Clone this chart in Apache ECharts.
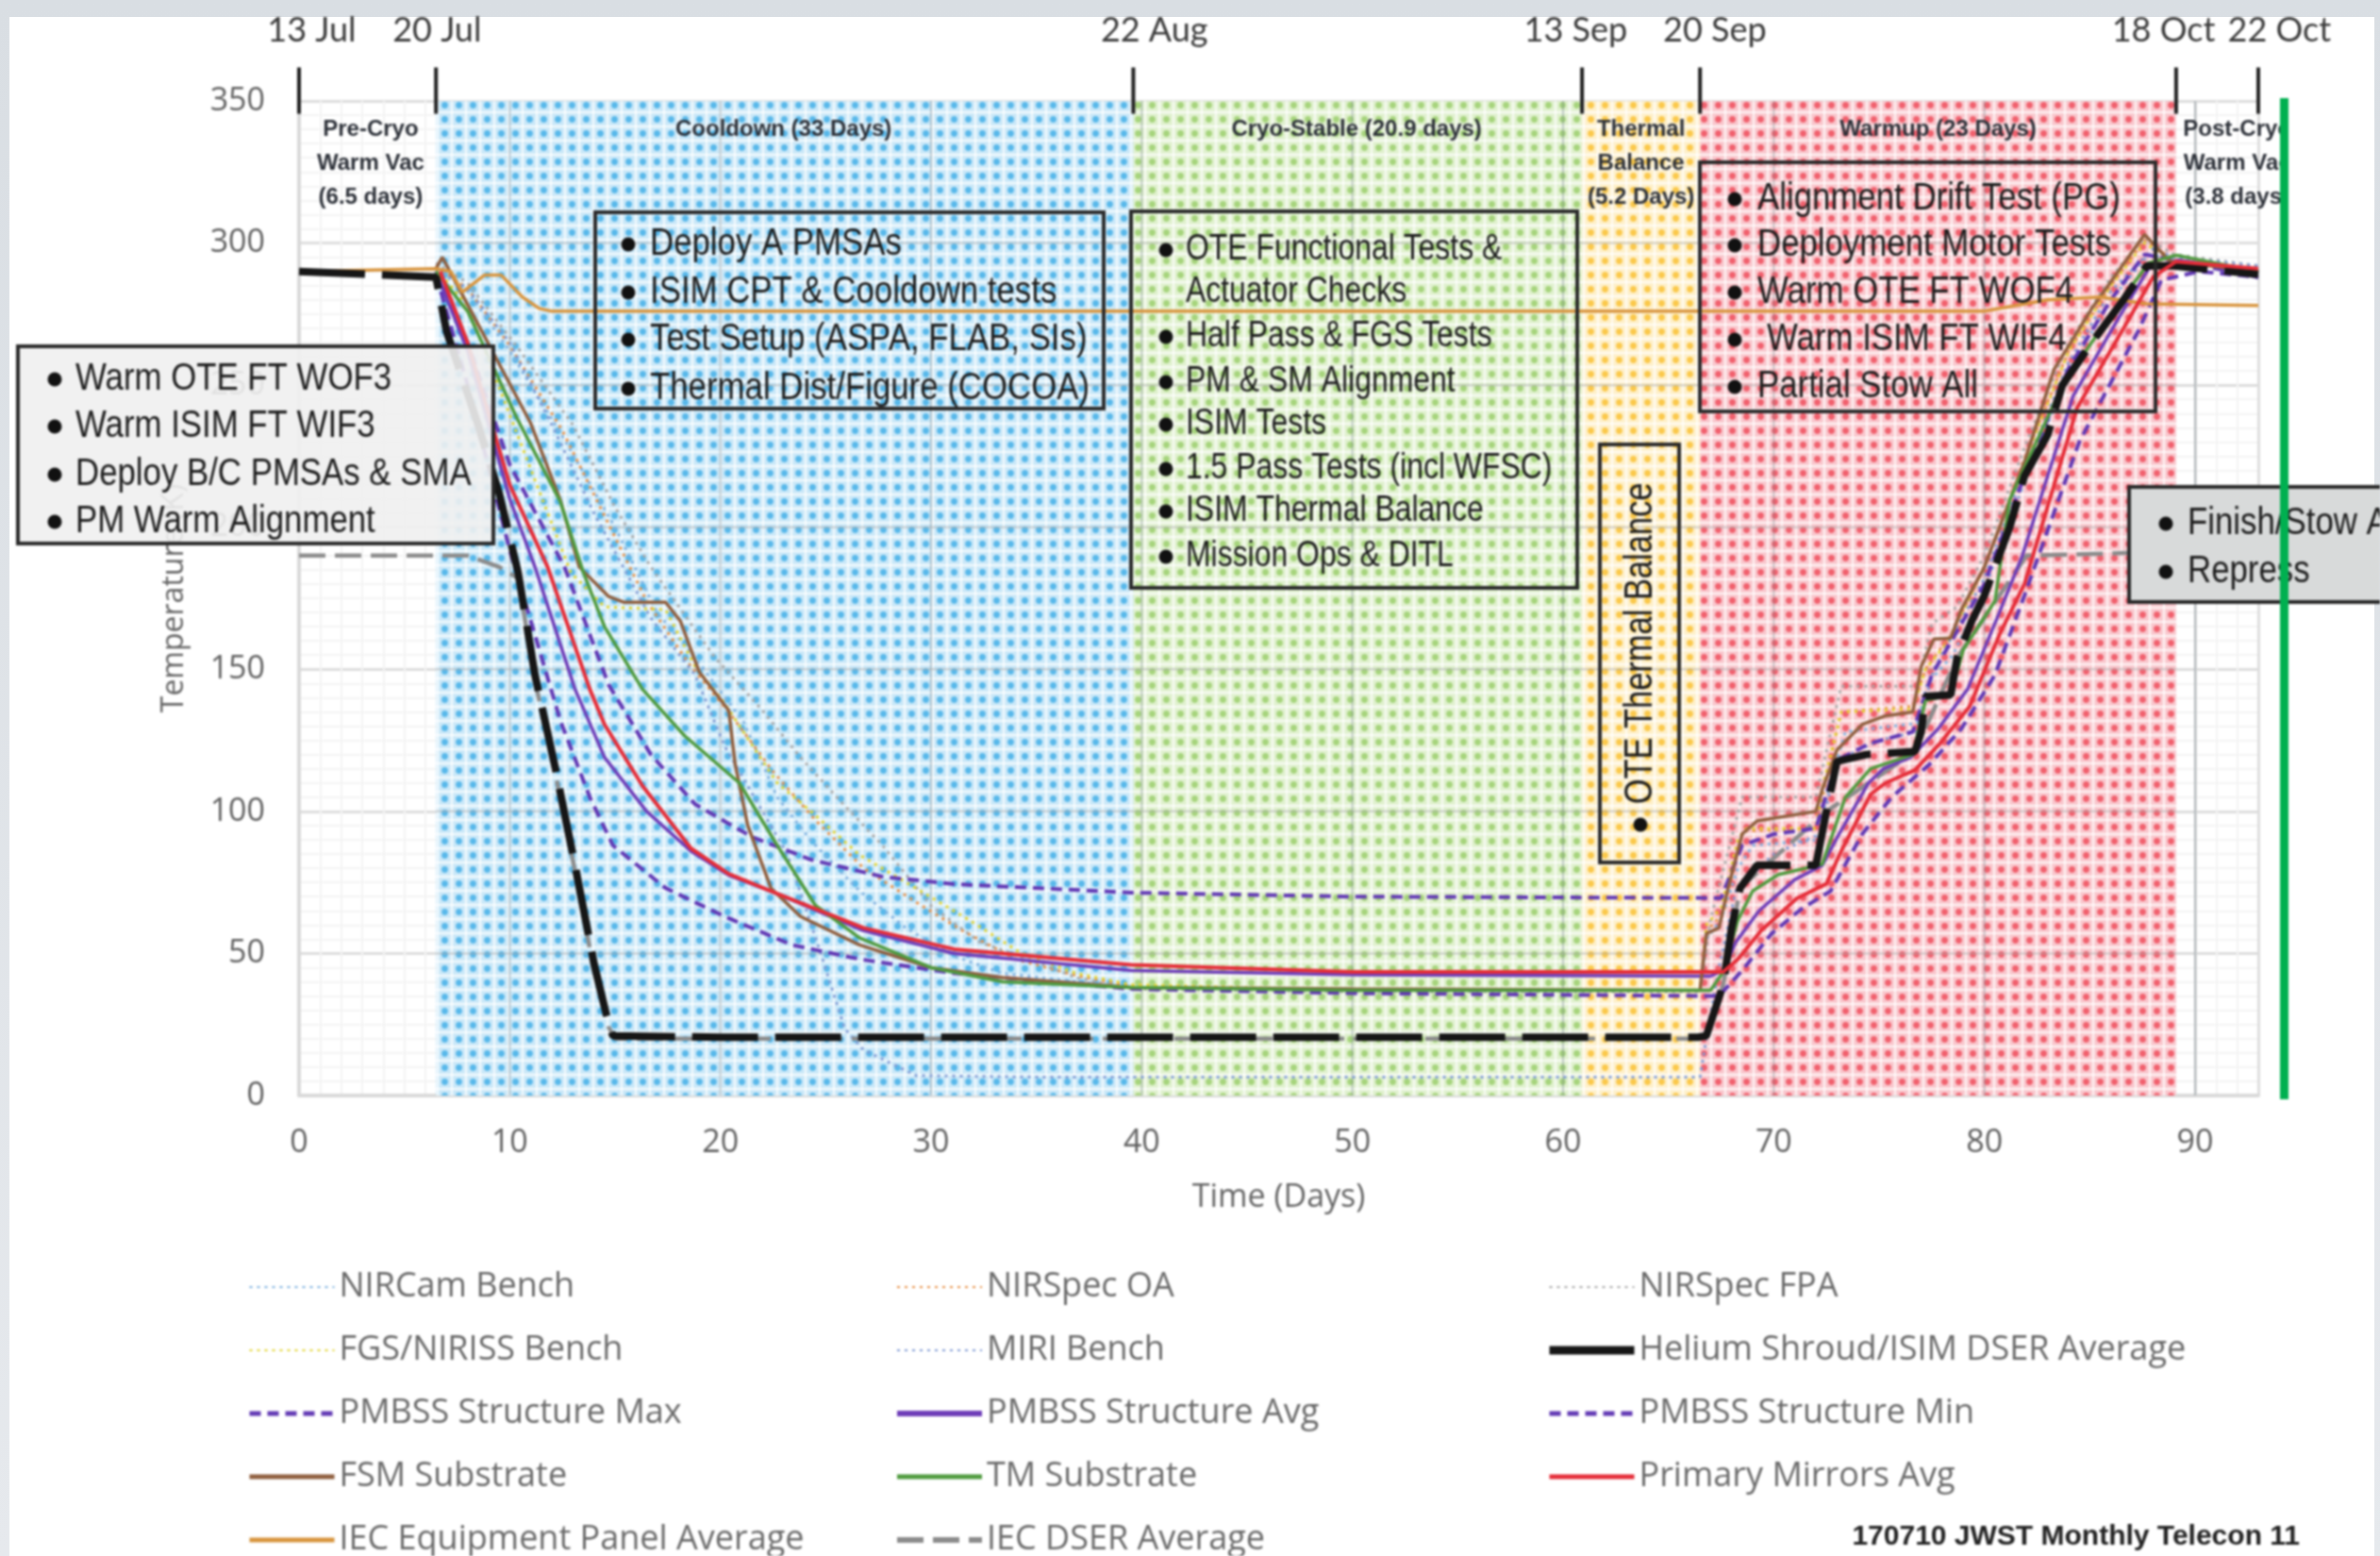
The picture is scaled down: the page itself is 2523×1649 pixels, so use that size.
<!DOCTYPE html>
<html><head><meta charset="utf-8">
<style>
html,body{margin:0;padding:0;width:2523px;height:1649px;overflow:hidden;background:linear-gradient(#d9dee3,#e6e9ed)}
#paper{position:absolute;left:10px;top:18px;width:2507px;height:1631px;background:#fff}
#c{position:absolute;left:0;top:0;width:2523px;height:1649px;filter:blur(1.1px)}
</style>
<script src="https://cdn.jsdelivr.net/npm/echarts@6/dist/echarts.min.js"></script>
</head><body><div id="paper"></div><div id="c"></div>
<script>
// ---------- data (day, kelvin) ----------
const yTicks=[0,50,100,150,200,250,300,350];
const phaseStart=[0,6.5,39.6,60.9,66.5,89.1];
const phaseEnd=[6.5,39.6,60.9,66.5,89.1,93];
const phaseTitles=['Pre-Cryo\nWarm Vac\n(6.5 days)','Cooldown (33 Days)','Cryo-Stable (20.9 days)','Thermal\nBalance\n(5.2 Days)','Warmup (23 Days)','Post-Cryo\nWarm Vac\n(3.8 days)'];
const phaseTitleDay=[3.4,23,50.2,63.7,77.8,92];
const dateTickDays=[0,6.5,39.6,60.9,66.5,89.1,93];
const dateLabels=['13 Jul','20 Jul','22 Aug','13 Sep','20 Sep','18 Oct','22 Oct'];
const dateLabelDays=[0.6,6.55,40.6,60.6,67.2,88.5,94];

const nircam=[[6.5,291],[8,283],[10,262],[12.5,232],[15,200],[17,170],[19,152],[21.1,131.5],[22.7,105],[24.3,89.7],[26.6,72],[28.8,59],[31.1,49],[33.4,43],[39.5,38],[50,37],[66.5,37],[66.8,55],[67.5,62],[68.3,80],[69,88],[72.1,90],[72.6,108],[73.4,128],[76.8,131],[77.3,145],[78.5,155],[80,178],[82,218],[84,255],[86,280],[87.8,296],[89,294],[93,291]];
const nirspecOA=[[6.5,292],[8,284],[10,264],[12.5,234],[14.5,204],[16.5,174],[18.5,152],[20.5,134],[22.5,114],[24.5,97],[26.8,80],[29.3,68],[31.5,58],[34,48],[37,42],[39.5,38.5],[50,37],[66.5,37],[66.8,58],[67.6,64],[68.5,93],[72,94],[72.4,108],[73.2,135],[76.6,137],[77.2,150],[78.4,162],[80,186],[82,226],[84,262],[86,285],[87.6,301],[89,294],[93,290]];
const nirspecFPA=[[6.5,293],[8,286],[10.5,262],[13,236],[15,207],[16.7,186],[19.7,154.5],[22,135.5],[23.8,119],[25.7,103.6],[27.7,88],[30,66.8],[32.3,54],[34.6,48],[36.9,41.5],[39.5,37.5],[50,36.5],[66.5,36.5],[67,62],[68.5,105],[72,105],[73.2,144],[76.8,144],[77.5,166],[78.7,172],[80,190],[82,230],[84,265],[86,288],[87.6,302],[89,296],[93,292]];
const fgsNiriss=[[6.5,291],[8,278],[10.5,230],[12.9,184],[14.5,172],[17.4,171],[18.8,151],[20.2,138],[22.7,110],[24.3,100],[26.6,84.7],[29.5,72],[31.8,61.8],[34.3,50],[36.9,43],[39.5,39],[50,37],[66.5,37],[66.8,60],[67.5,66],[68.3,90],[68.7,94],[72,94],[72.3,108],[73.2,135],[76.6,136],[77.2,150],[78.3,160],[80,186],[82,225],[84,262],[86,285],[87.6,300],[89,293],[93,290]];
const miri=[[6.5,291],[8,284],[10,265],[12,236],[14,205],[16.7,168],[18.8,148],[20.2,123],[23.2,84.7],[24.7,51.5],[25.9,23.6],[26.8,16],[29.3,7],[35,6.5],[66.5,6.5],[66.8,20],[67.4,45],[68.2,72],[70,85],[72.2,92],[73,118],[75,125],[76.8,128],[77.6,150],[80,182],[82,222],[84,258],[86,283],[88,298],[89,295],[93,292]];
const heliumShroud=[[0,290],[6.5,288],[7,269],[8.5,236],[9.5,212],[10.4,184],[11.2,148],[12.2,114],[13.1,81],[14,46.5],[14.7,25],[14.9,21],[20,20.5],[66.4,20.5],[66.8,21],[67.6,39],[68,59],[68.4,73],[69.2,81],[72,81],[72.5,100],[73,117.6],[74.4,120],[76.7,121],[77,128],[77.2,140.5],[78.4,141],[78.7,154],[79.4,167],[80,176],[80.5,186],[81.2,200],[81.9,218],[83,232.5],[83.7,250],[85.1,265],[86.6,280],[87.7,292],[89,292],[93,289]];
const pmbssMax=[[6.5,290],[8,265],[10,222],[12.6,186],[14.7,144.5],[16.7,120],[18.8,102.5],[21.5,91],[24.3,83],[27.7,77],[31.1,74.4],[39.5,71.4],[50,70],[67.5,69.5],[68.5,88],[70,92],[72,94],[73,118],[74.6,124],[76.6,128],[77.5,148],[80,180],[82,220],[84,256],[86,280],[87.6,296],[89,294],[93,288]];
const pmbssAvg=[[6.5,290],[8,262],[10,210],[11.2,186],[13.1,143],[14.5,119],[16.5,100],[18.6,86],[20.4,77.5],[22.7,71],[26.8,58],[31.1,50],[39.5,44],[50,42.5],[67,42],[67.6,44],[68.2,54],[69.3,65],[71,76],[72.3,81],[73.1,92],[74.5,110],[75.2,115],[76.5,119],[77.8,129],[79.2,143],[80.6,168],[81.8,190],[84.2,246],[86.4,274],[87.8,291],[89.2,294],[93,290]];
const pmbssMin=[[6.5,289],[8,250],[10,192],[11.2,162],[12.4,132],[13.8,105],[14.9,88],[17.4,73],[20.2,63],[23.4,53],[26.6,48],[31.1,43],[39.5,37.5],[50,36],[67.4,35],[68.5,44],[69.9,57],[71.3,65.6],[72.7,72],[74.2,92],[75.6,105],[77.4,116.6],[78.9,129],[80.5,148],[81.9,176],[84.5,230],[87.3,269],[88.4,287],[90.2,290],[93,288]];
const fsm=[[6.5,291],[6.8,295],[8.1,277],[11,236.5],[12.4,209.6],[13.3,186],[14.7,175.6],[15.4,173.6],[17.4,173.6],[18.1,167],[19,149],[20.4,135.5],[20.7,116.6],[21.3,95],[22.4,73],[23.8,63],[26.6,53],[30,45],[33.4,41.5],[39.5,38],[50,37.5],[66.5,37],[66.6,43.5],[66.8,57],[67.4,59],[67.8,72],[68.5,92],[69.2,96.6],[72,100],[72.3,107.6],[73,121.6],[74.2,130.6],[75.3,133.6],[76.6,135],[77,151],[77.6,160.6],[78.4,161],[78.9,171],[80,186],[81.9,223],[83.3,255.5],[85.1,277],[87.6,303],[88.8,293.6],[93,290]];
const tmSubstrate=[[6.5,290],[8,276],[10.3,239],[12.4,209],[13.5,184],[14.5,165],[16.3,143],[18.3,126.6],[20.9,110],[22.7,88],[24.5,67],[26.6,55.5],[30,45],[33.4,40],[39.5,38],[50,37],[67,37],[67.6,43.5],[68.3,61.8],[69,72],[70.2,77.7],[72.3,81.4],[73.4,105],[74.6,115],[76.6,120],[77.2,139],[78.4,141],[79,157],[80.5,174],[81.2,209.6],[83.7,250],[86.2,277],[87.8,293],[89.1,295.7],[93,290]];
const primaryMirrors=[[6.7,290],[8,265],[10,215],[11.8,186],[13.8,143],[14.5,130.6],[16.3,109],[18.6,87],[20.4,78],[22.7,71],[26.8,59],[31.1,51.5],[39.5,46],[50,43.5],[67.6,43.5],[68.3,48],[69.4,58],[71.1,69.4],[72.5,74.5],[73.2,86],[74.6,106],[75.3,110],[76.7,114.5],[77.9,124],[79.3,137],[80.7,162],[81.9,180],[84.4,242],[86.6,270],[88,288],[89.1,293.5],[93,291]];
const iecPanel=[[0,290],[6.5,291],[7.2,290],[7.75,282.7],[8.8,288.7],[9.6,288.7],[10.6,281],[11.4,277],[12,276],[80,276],[83,280],[85.5,281],[87.7,278.6],[93,278]];
const iecDser=[[0,190],[8,190],[9.5,186],[10.4,182],[11.2,146],[12.2,112],[13.1,79],[14,44],[14.7,24],[15,20],[66.4,20],[66.8,21],[67.6,39],[68.4,73],[72.5,100],[76.7,121],[78.7,154],[82,190],[87,191],[93,191]];

const legendCol1=['NIRCam Bench','FGS/NIRISS Bench','PMBSS Structure Max','FSM Substrate','IEC Equipment Panel Average'];
const legendCol2=['NIRSpec OA','MIRI Bench','PMBSS Structure Avg','TM Substrate','IEC DSER Average'];
const legendCol3=['NIRSpec FPA','Helium Shroud/ISIM DSER Average','PMBSS Structure Min','Primary Mirrors Avg'];

const calloutEarly=['Warm OTE FT WOF3','Warm ISIM FT WIF3','Deploy B/C PMSAs & SMA','PM Warm Alignment'];
const calloutCooldown=['Deploy A PMSAs','ISIM CPT & Cooldown tests','Test Setup (ASPA, FLAB, SIs)','Thermal Dist/Figure (COCOA)'];
const calloutStable=['OTE Functional Tests &','Actuator Checks','Half Pass & FGS Tests','PM & SM Alignment','ISIM Tests','1.5 Pass Tests (incl WFSC)','ISIM Thermal Balance','Mission Ops & DITL'];
const calloutWarmup=['Alignment Drift Test (PG)','Deployment Motor Tests','Warm OTE FT WOF4','Warm ISIM FT WIF4','Partial Stow All'];
const calloutLate=['Finish/Stow All','Repress'];
const footer='170710 JWST Monthly Telecon 11';

// ---------- styling helpers ----------
function tile(dot,light){
  const s=15,cv=document.createElement('canvas');cv.width=s;cv.height=s;
  const g=cv.getContext('2d');
  g.fillStyle=light;g.fillRect(0,0,s,s);
  g.fillStyle='rgba(255,255,255,.8)';g.fillRect(0,13,s,2);g.fillRect(13,0,2,s);
  g.fillStyle=dot;g.beginPath();g.arc(6.5,6.5,3.4,0,Math.PI*2);g.fill();
  return {image:cv,repeat:'repeat'};
}
const fills=['rgba(255,255,255,0)',tile('#58B8EA','#CBE8F8'),tile('#A6D47C','#E1F1D0'),tile('#FBC84A','#FEF0CB'),tile('#F1606D','#F9C8CE'),'rgba(255,255,255,0)'];

const FONT='"Open Sans"';
const BOX_FONT='"Liberation Sans"';
function line(name,data,color,width,type,z){
  return {name,type:'line',data,showSymbol:false,symbol:'none',z:z||5,silent:true,animation:false,
    lineStyle:{color,width,type:type||'solid'},itemStyle:{color}};
}
const series=[
 {type:'custom',z:1,silent:true,animation:false,data:phaseStart.map((s,i)=>[s,phaseEnd[i],i]),
  renderItem(p,api){
   const a=api.coord([api.value(0),350]),b=api.coord([api.value(1),0]);
   return {type:'rect',shape:{x:a[0],y:a[1],width:b[0]-a[0],height:b[1]-a[1]},style:{fill:fills[api.value(2)]}};
  }},
 {type:'custom',z:2,silent:true,animation:false,data:[10,20,30,40,50,60,70,80,90].map(d=>[d]),
  renderItem(p,api){
   const a=api.coord([api.value(0),350]),b=api.coord([api.value(0),0]);
   return {type:'line',shape:{x1:a[0],y1:a[1],x2:b[0],y2:b[1]},style:{stroke:'rgba(110,125,135,.38)',lineWidth:2}};
  }},
 {type:'custom',z:2,silent:true,animation:false,data:yTicks.slice(1,-1).map(v=>[v]),
  renderItem(p,api){
   const a=api.coord([6.5,api.value(0)]),b=api.coord([89.1,api.value(0)]);
   return {type:'line',shape:{x1:a[0],y1:a[1],x2:b[0],y2:b[1]},style:{stroke:'rgba(170,170,170,.55)',lineWidth:2}};
  }},
 line('NIRCam Bench',nircam,'#7FB2E0',3,[3,5]),
 line('NIRSpec OA',nirspecOA,'#E8924A',3,[3,5]),
 line('NIRSpec FPA',nirspecFPA,'#A8A8A8',3,[3,5]),
 line('FGS/NIRISS Bench',fgsNiriss,'#E3D42E',3,[3,5]),
 line('MIRI Bench',miri,'#7F9BD4',3,[3,5]),
 line('IEC DSER Average',iecDser,'#8C8C8C',4.5,[28,10]),
 line('PMBSS Structure Max',pmbssMax,'#6138B4',4,[12,7],7),
 line('PMBSS Structure Avg',pmbssAvg,'#6E3DB8',3.5,'solid',7),
 line('PMBSS Structure Min',pmbssMin,'#6138B4',4,[12,7],7),
 line('FSM Substrate',fsm,'#8F5F3F',3.5,'solid',8),
 line('TM Substrate',tmSubstrate,'#4F9A3E',3.5,'solid',8),
 line('IEC Equipment Panel Average',iecPanel,'#D8953F',3.5,'solid',8),
 line('Helium Shroud/ISIM DSER Average',heliumShroud,'#161616',8,[70,18],9),
 line('Primary Mirrors Avg',primaryMirrors,'#E52D38',4,'solid',9),
 {type:'custom',z:20,silent:true,animation:false,data:dateTickDays.map((d,i)=>[d,dateLabelDays[i],i]),
  renderItem(p,api){
   const a=api.coord([api.value(0),361.8]),b=api.coord([api.value(0),345.5]),c=api.coord([api.value(1),374.7]);
   return {type:'group',children:[
    {type:'line',shape:{x1:a[0],y1:a[1],x2:b[0],y2:b[1]},style:{stroke:'#222',lineWidth:4}},
    {type:'text',x:c[0],y:c[1],style:{text:dateLabels[api.value(2)],font:'36px Lato',fill:'#3a3a3a',align:'center',verticalAlign:'middle'}}
   ]};
  }},
 {type:'custom',z:20,silent:true,animation:false,data:phaseTitleDay.map((d,i)=>[d,i]),
  renderItem(p,api){
   const c=api.coord([api.value(0),346]);
   return {type:'text',x:c[0],y:c[1],style:{text:phaseTitles[api.value(1)],font:'bold 24px "Liberation Sans"',fill:'#2c3038',align:'center',verticalAlign:'top',lineHeight:36}};
  }}
];

function calloutBox(x,y,w,h,fill,lines,textX,bulletX,ys,size,extra,squeeze){
  const out=[{type:'rect',z:50,shape:{x,y,width:w,height:h},style:{fill,stroke:'#2a2a2a',lineWidth:4}}];
  lines.forEach((t,i)=>{
    const tx=(extra&&extra[i])||textX;
    out.push({type:'text',z:51,x:tx,y:ys[i]+3,scaleX:squeeze,style:{text:t,font:size+'px '+BOX_FONT,fill:'#1d1d1d',verticalAlign:'middle',align:'left'}});
    if(!(extra&&extra.noBullet===i)) out.push({type:'circle',z:51,shape:{cx:bulletX,cy:ys[i]+3,r:7.5},style:{fill:'#111'}});
  });
  return out;
}
const gfx=[].concat(
 calloutBox(19,367,504,209,'rgba(240,240,240,.9)',calloutEarly,80,58,[399,449,500,550],40,null,0.87),
 calloutBox(631,225,539,208,'rgba(255,255,255,0)',calloutCooldown,689,666,[256,307,357,409],40,null,0.87),
 calloutBox(1199,224,473,399,'rgba(255,255,255,0)',calloutStable,1257,1236,[262,307,354,402,447,494,539,587],38,{noBullet:1},0.84),
 calloutBox(1802,172,483,264,'rgba(255,255,255,0)',calloutWarmup,1863,1839,[208,257,307,357,407],40,{3:1873},0.87),
 [{type:'rect',z:50,shape:{x:1696,y:471,width:84,height:443},style:{fill:'rgba(255,255,255,0)',stroke:'#2a2a2a',lineWidth:4}},
  {type:'text',z:51,x:1739,y:682,rotation:Math.PI/2,scaleX:0.82,style:{text:'OTE Thermal Balance',font:'42px '+BOX_FONT,fill:'#1d1d1d',align:'center',verticalAlign:'middle'}},
  {type:'circle',z:51,shape:{cx:1739,cy:874,r:7.5},style:{fill:'#111'}},
  {type:'rect',z:55,shape:{x:2426,y:125,width:90,height:100},style:{fill:'#fff'}}],
 calloutBox(2257,516,280,122,'#D8DADA',calloutLate,2319,2296,[552,603],40,null,0.87),
 [{type:'rect',z:60,shape:{x:2417,y:104,width:9,height:1061},style:{fill:'#00B050'}},
  {type:'text',z:60,x:2438,y:1629,style:{text:footer,font:'bold 30px "Liberation Sans"',fill:'#222',align:'right',verticalAlign:'middle'}}]
);

const legendBase={orient:'vertical',itemWidth:90,itemHeight:16,itemGap:31,top:1341,height:600,selectedMode:false,
  itemStyle:{opacity:0},
  textStyle:{fontFamily:FONT,fontSize:36,color:'#6a6a6a'}};
const legendThick={'Helium Shroud/ISIM DSER Average':{width:9,type:'solid'},'PMBSS Structure Avg':{width:6},'PMBSS Structure Max':{width:5},'PMBSS Structure Min':{width:5},'FSM Substrate':{width:5},'TM Substrate':{width:5},'Primary Mirrors Avg':{width:5},'IEC Equipment Panel Average':{width:5},'IEC DSER Average':{width:6}};
const legendItems=names=>names.map(n=>legendThick[n]?{name:n,lineStyle:legendThick[n]}:{name:n});
const option={
 animation:false,
 backgroundColor:'transparent',
 grid:{left:317,top:107,width:2077,height:1054,containLabel:false},
 xAxis:{type:'value',min:0,max:93,interval:10,name:'Time (Days)',nameLocation:'middle',nameGap:91,
  nameTextStyle:{fontFamily:FONT,fontSize:34,color:'#666'},
  axisLine:{show:true,onZero:false,lineStyle:{color:'#D9D9D9',width:4}},axisTick:{show:false},
  axisLabel:{fontFamily:FONT,fontSize:34,color:'#5f5f5f',margin:33,
    customValues:[0,10,20,30,40,50,60,70,80,90]},
  splitLine:{show:true,lineStyle:{color:'#DDDDDD',width:3}},
  minorTick:{show:false,splitNumber:10},minorSplitLine:{show:true,lineStyle:{color:'#F4F4F4',width:2}}},
 yAxis:{type:'value',min:0,max:350,interval:50,name:'Temperature (K)',nameLocation:'middle',nameGap:116,
  nameTextStyle:{fontFamily:FONT,fontSize:32,color:'#666'},
  axisLine:{show:true,onZero:false,lineStyle:{color:'#D9D9D9',width:4}},axisTick:{show:false},
  axisLabel:{fontFamily:FONT,fontSize:34,color:'#5f5f5f',margin:36},
  splitLine:{show:true,lineStyle:{color:'#DDDDDD',width:3}},
  minorTick:{show:false,splitNumber:10},minorSplitLine:{show:true,lineStyle:{color:'#F4F4F4',width:2}}},
 legend:[
  Object.assign({},legendBase,{left:257,data:legendItems(legendCol1)}),
  Object.assign({},legendBase,{left:943,data:legendItems(legendCol2)}),
  Object.assign({},legendBase,{left:1633,data:legendItems(legendCol3)})
 ],
 series,
 graphic:{elements:gfx}
};
const chart=echarts.init(document.getElementById('c'),null,{renderer:'canvas',width:2523,height:1649});
chart.setOption(option);
</script></body></html>
